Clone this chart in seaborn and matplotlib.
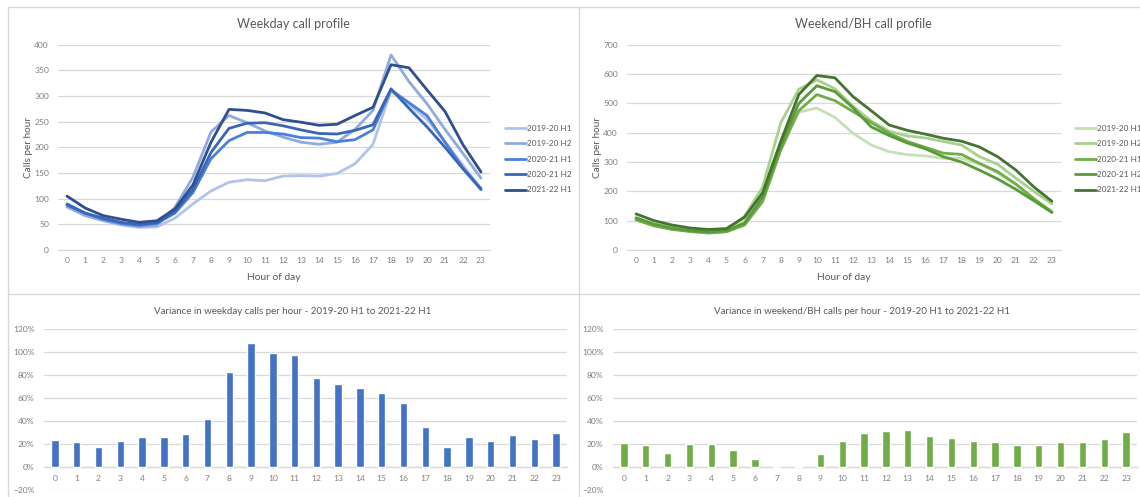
import matplotlib
matplotlib.use("Agg")
import matplotlib.pyplot as plt
from matplotlib.lines import Line2D
from matplotlib.ticker import PercentFormatter
import numpy as np
import pandas as pd
import seaborn as sns

# ---------------------------------------------------------------- data
hours = list(range(24))
periods = ["2019-20 H1", "2019-20 H2", "2020-21 H1", "2020-21 H2", "2021-22 H1"]

# Weekday calls per hour
wd_1920_h1 = [85, 68, 57, 49, 44, 45, 62, 90, 115, 132, 137, 135, 144, 145, 144, 149, 168, 206, 310, 284, 254, 211, 165, 117]
wd_1920_h2 = [84, 67, 58, 50, 46, 48, 83, 142, 230, 262, 248, 232, 220, 210, 206, 210, 235, 272, 380, 328, 285, 235, 188, 140]
wd_2021_h1 = [90, 72, 60, 52, 48, 52, 72, 112, 178, 213, 229, 229, 226, 219, 218, 211, 215, 234, 312, 287, 262, 210, 160, 120]
wd_2021_h2 = [88, 72, 62, 54, 50, 53, 75, 118, 190, 237, 247, 248, 242, 234, 227, 226, 233, 244, 314, 276, 240, 200, 158, 118]
wd_2122_h1 = [105, 82, 67, 60, 54, 57, 80, 127, 210, 274, 272, 267, 254, 249, 243, 245, 262, 278, 361, 355, 312, 270, 205, 152]

# Weekend / bank holiday calls per hour
we_1920_h1 = [102, 84, 76, 63, 58, 63, 105, 202, 366, 470, 484, 452, 398, 358, 335, 325, 321, 312, 313, 294, 262, 223, 173, 127]
we_1920_h2 = [105, 88, 80, 72, 65, 70, 115, 215, 433, 548, 580, 550, 490, 440, 405, 389, 382, 370, 358, 318, 292, 245, 200, 157]
we_2021_h1 = [103, 82, 70, 63, 58, 62, 85, 165, 340, 475, 530, 509, 472, 435, 398, 370, 350, 330, 326, 295, 267, 225, 175, 130]
we_2021_h2 = [110, 88, 74, 66, 62, 66, 92, 180, 355, 500, 560, 540, 485, 420, 390, 365, 345, 318, 300, 272, 242, 207, 168, 128]
we_2122_h1 = [123, 100, 85, 75, 70, 73, 112, 195, 370, 530, 595, 587, 523, 475, 426, 408, 395, 381, 371, 351, 318, 273, 215, 166]

# Change 2019-20 H1 -> 2021-22 H1 (fraction)
wd_variance = [0.234, 0.22, 0.17, 0.225, 0.26, 0.26, 0.29, 0.42, 0.83, 1.08, 0.99, 0.97, 0.77, 0.72, 0.69, 0.645,
               0.56, 0.35, 0.17, 0.26, 0.23, 0.28, 0.24, 0.30]
we_variance = [0.21, 0.19, 0.12, 0.20, 0.20, 0.15, 0.07, -0.012, 0.012, 0.115, 0.23, 0.30, 0.315, 0.325, 0.27, 0.255,
               0.23, 0.22, 0.19, 0.19, 0.215, 0.22, 0.24, 0.305]

blues = ["#B4C3E8", "#8FAADC", "#4A80DA", "#3A66B5", "#2F4F8E"]
greens = ["#C5E0B4", "#A9D18E", "#70AD47", "#5A9A3A", "#437530"]
bar_blue = "#4472C4"
bar_green = "#70AD47"

# ---------------------------------------------------------------- style
sns.set_theme(style="white")
plt.rcParams["font.family"] = ["Lato", "DejaVu Sans"]

GRID = "#D9D9D9"
TICK = "#7F7F7F"
TEXT = "#595959"

W, H = 1140, 497
fig = plt.figure(figsize=(W / 100, H / 100), dpi=100)


def px_axes(x0, y0, x1, y1):
    return fig.add_axes([x0 / W, 1 - y1 / H, (x1 - x0) / W, (y1 - y0) / H])


def fig_line(x0, y0, x1, y1):
    fig.add_artist(Line2D([x0 / W, x1 / W], [1 - y0 / H, 1 - y1 / H],
                          transform=fig.transFigure, color=GRID, lw=1.0))


def fig_text(x, y, s, **kw):
    fig.text(x / W, 1 - y / H, s, ha="center", va="center", color=TEXT, **kw)


# chart-area frames
fig_line(8, 7, W, 7)
fig_line(8, 7, 8, H)
fig_line(579, 7, 579, H)
fig_line(8, 294, W, 294)


def style_axes(ax, ymin, ymax, step, pct=False, ypad=6.5, xpad=5.0):
    ax.set_ylim(ymin, ymax)
    ax.set_xlim(-0.5, 23.5)
    ax.set_yticks(np.arange(ymin, ymax + step / 2, step))
    ax.set_xticks(hours)
    ax.set_xticklabels([str(h) for h in hours])
    if pct:
        ax.yaxis.set_major_formatter(PercentFormatter(1.0, decimals=0))
    ax.yaxis.grid(True, color=GRID, lw=0.9)
    ax.set_axisbelow(True)
    for side in ("top", "right", "left"):
        ax.spines[side].set_visible(False)
    ax.spines["bottom"].set_color(GRID)
    ax.spines["bottom"].set_linewidth(0.9)
    ax.spines["bottom"].set_position(("data", 0))
    ax.spines["bottom"].set_zorder(0.8)
    ax.tick_params(axis="y", length=0, pad=ypad, labelsize=6.1, labelcolor=TICK)
    ax.tick_params(axis="x", length=0, pad=xpad, labelsize=6.1, labelcolor=TICK)
    ax.set_xlabel("")
    ax.set_ylabel("")
    ax.patch.set_alpha(0)


def line_panel(box, series, colors, ymax, title, title_x, legend_x):
    ax = px_axes(*box)
    df = pd.DataFrame({
        "hour": hours * len(periods),
        "calls": sum(series, []),
        "period": [p for p in periods for _ in hours],
    })
    sns.lineplot(data=df, x="hour", y="calls", hue="period", hue_order=periods,
                 palette=colors, lw=2.0, errorbar=None, ax=ax)
    style_axes(ax, 0, ymax, 100 if ymax > 400 else 50)
    handles, labels = ax.get_legend_handles_labels()
    ax.get_legend().remove()
    fig.legend(handles, labels, loc="upper left",
               bbox_to_anchor=(legend_x / W, 1 - 125 / H),
               frameon=False, fontsize=5.9, labelcolor=TEXT,
               handlelength=2.6, handletextpad=0.12, labelspacing=1.02,
               borderpad=0, borderaxespad=0)
    ax.text(-0.069, 0.5, "Calls per hour", transform=ax.transAxes, rotation=90,
            ha="center", va="center", color=TEXT, fontsize=7.2)
    ax.text(0.5, -0.132, "Hour of day", transform=ax.transAxes,
            ha="center", va="center", color=TEXT, fontsize=7.4)
    fig_text(title_x, 24, title, fontsize=9.0)
    return ax


def bar_panel(box, values, color, title, title_x):
    ax = px_axes(*box)
    sns.barplot(x=hours, y=values, color=color, width=0.34, saturation=1,
                errorbar=None, ax=ax, zorder=3)
    style_axes(ax, -0.2, 1.2, 0.2, pct=True, ypad=6.8, xpad=5.5)
    fig_text(title_x, 311, title, fontsize=7.0)
    return ax


line_panel((58, 44.7, 490, 250),
           [wd_1920_h1, wd_1920_h2, wd_2021_h1, wd_2021_h2, wd_2122_h1],
           blues, 400, "Weekday call profile", 293, 505)
line_panel((627, 44.7, 1061, 250),
           [we_1920_h1, we_1920_h2, we_2021_h1, we_2021_h2, we_2122_h1],
           greens, 700, "Weekend/BH call profile", 863, 1075)

bar_panel((44, 329, 567, 490), wd_variance, bar_blue,
          "Variance in weekday calls per hour - 2019-20 H1 to 2021-22 H1", 293)
bar_panel((613, 329, 1137, 490), we_variance, bar_green,
          "Variance in weekend/BH calls per hour - 2019-20 H1 to 2021-22 H1", 862)

fig.savefig("out.png", dpi=100, facecolor="white")
